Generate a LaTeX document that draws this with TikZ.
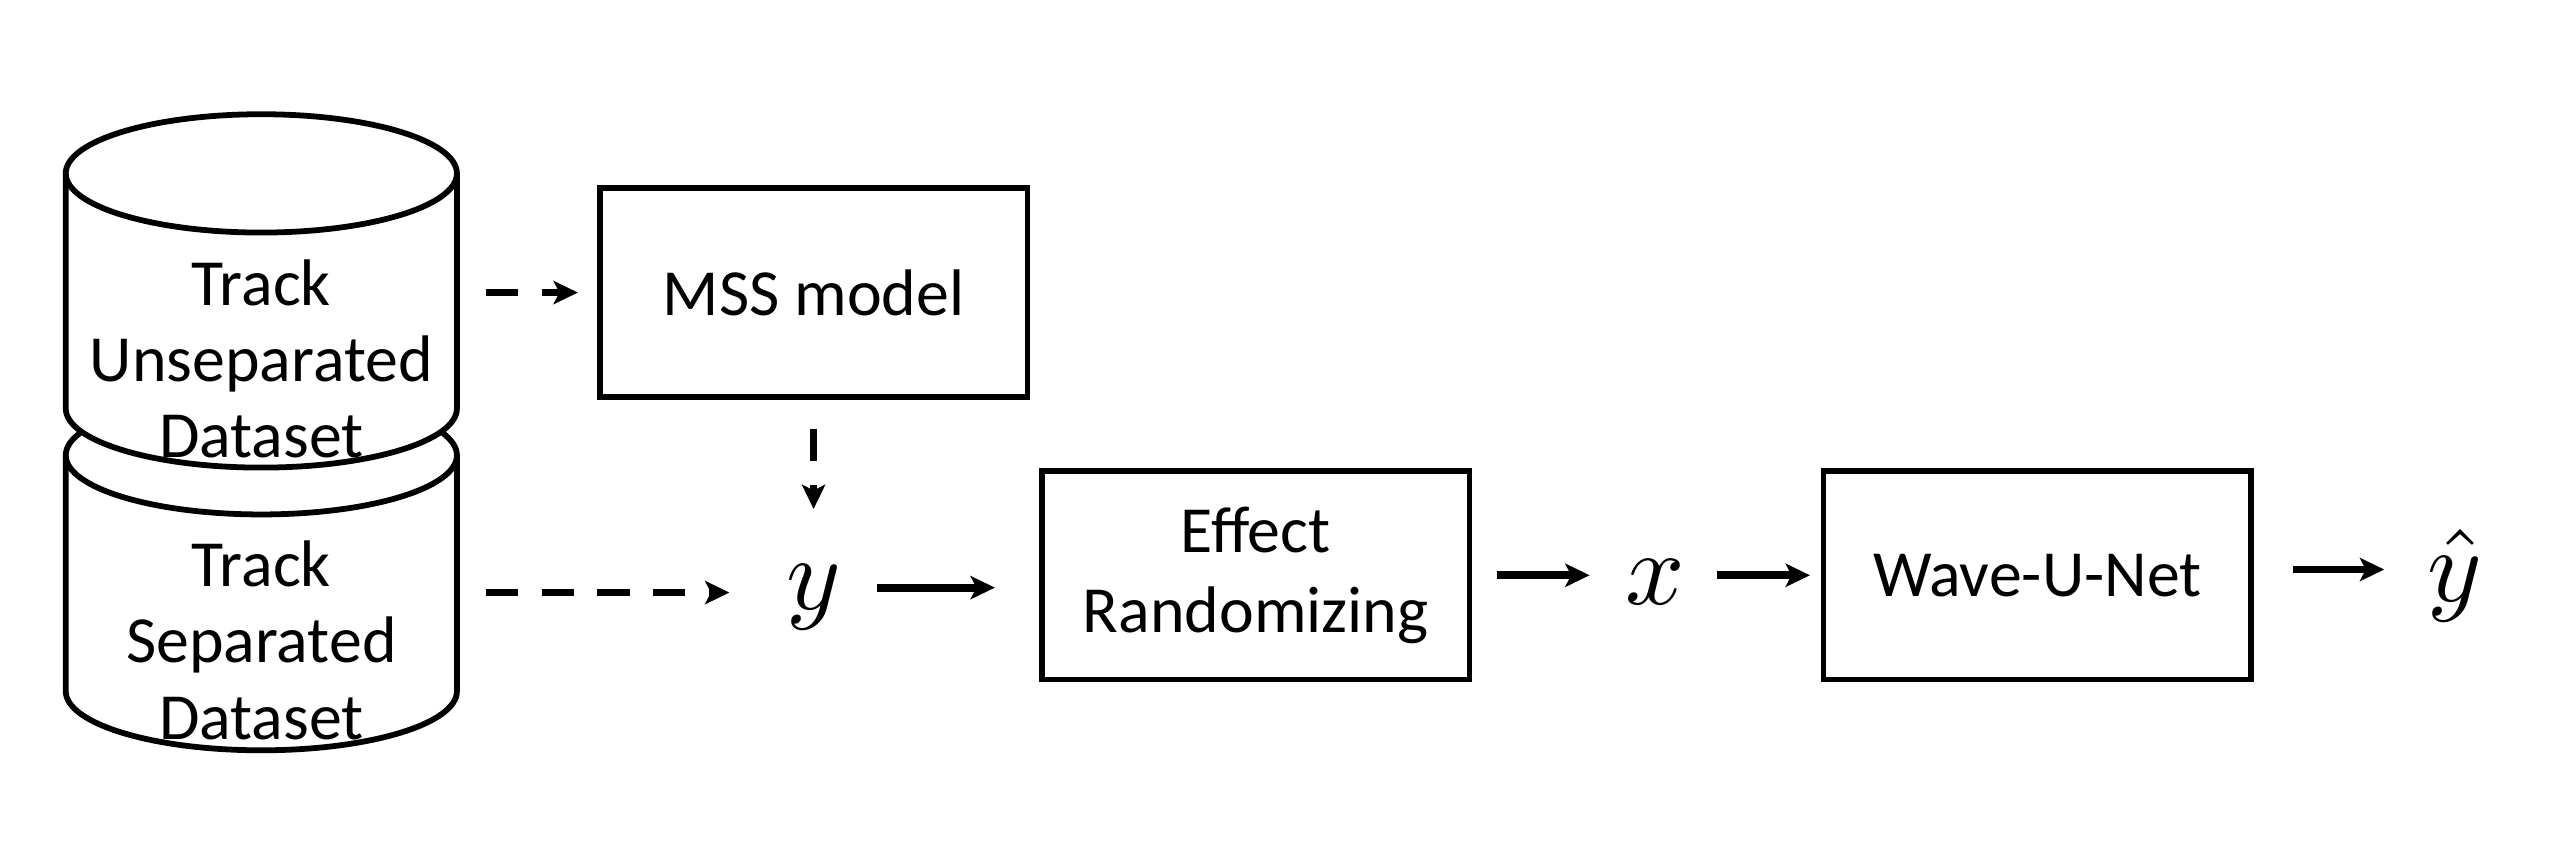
\documentclass[tikz,border=0pt]{standalone}
\usepackage{fontspec}
\setmainfont{Carlito}
\usetikzlibrary{arrows.meta}

\tikzset{
  block/.style={draw, line width=0.95pt, outer sep=0pt, inner sep=0pt,
    minimum width=2.6cm, minimum height=1.27cm, align=center,
    font=\fontsize{11.4}{13.9}\selectfont},
  cyltext/.style={inner sep=0pt, minimum width=2.38cm, align=center,
    font=\fontsize{11.4}{13.2}\selectfont},
  var/.style={inner sep=0pt, scale=1.8},
  cyl/.style={draw, line width=1pt},
  arr/.style={-{Stealth[length=4.2pt,width=4pt,inset=1pt]}, line width=1.35pt},
  dasharr/.style={arr, dash pattern=on 0.195cm off 0.145cm},
}

\begin{document}
\begin{tikzpicture}
  \useasboundingbox (0,0) rectangle (15.60,5.135);

  % the two datasets, lower one first
  \foreach \yt/\yb in {2.365/0.93, 4.08/2.65} {
    \draw[cyl, fill=white] (0.40,\yt) -- (0.40,\yb)
      arc[start angle=180, end angle=360, x radius=1.19, y radius=0.36]
      -- (2.78,\yt)
      arc[start angle=0, end angle=180, x radius=1.19, y radius=0.36] -- cycle;
    \draw[cyl] (0.40,\yt)
      arc[start angle=180, end angle=360, x radius=1.19, y radius=0.36];
  }

  \node[cyltext] (unsep) at (1.59,2.952) {Track\\Unseparated\\Dataset};
  \node[cyltext] (sep) at (1.59,1.24) {Track\\Separated\\Dataset};

  \node[block] (mss) at (4.95,3.355) {MSS model};
  \node[block] (effect) at (7.64,1.635) {Effect\\Randomizing};
  \node[block] (wave) at (12.395,1.635) {Wave-U-Net};

  \node[var, anchor=base] (y) at (4.954,1.425) {$y$};
  \node[var, anchor=base] (x) at (10.07,1.455) {$x$};
  \node[var, anchor=base] (yhat) at (14.935,1.476) {$\hat{y}$};

  \coordinate (yin) at ([yshift=0.03cm]y.west);
  \coordinate (yout) at ([yshift=0.06cm]y.east);
  \coordinate (wout) at ([yshift=0.035cm]wave.east);

  \draw[dasharr, shorten <=0.168cm, shorten >=0.134cm] (unsep.east |- mss.west) -- (mss.west);
  \draw[dasharr, shorten <=0.193cm, shorten >=0.328cm] (mss.south) -- (mss.south |- y.north);
  \draw[dasharr, shorten <=0.168cm, shorten >=0.337cm] (sep.east |- yin) -- (yin);
  \draw[arr, shorten <=0.204cm, shorten >=0.287cm] (yout) -- (yout -| effect.west);
  \draw[arr, shorten <=0.166cm, shorten >=0.205cm] (effect.east) -- (x.west |- effect.east);
  \draw[arr, shorten <=0.183cm, shorten >=0.083cm] (x.east |- wave.west) -- (wave.west);
  \draw[arr, shorten <=0.258cm, shorten >=0.25cm] (wout) -- (wout -| yhat.west);
\end{tikzpicture}
\end{document}
